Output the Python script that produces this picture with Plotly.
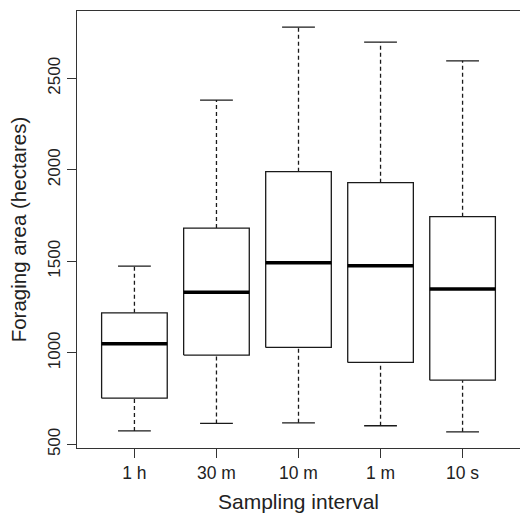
import plotly.graph_objects as go

categories = ["1 h", "30 m", "10 m", "1 m", "10 s"]
lower_whisker = [574, 615, 618, 602, 569]
q1 = [753, 988, 1030, 948, 851]
median = [1050, 1331, 1492, 1476, 1349]
q3 = [1219, 1682, 1990, 1930, 1744]
upper_whisker = [1474, 2381, 2779, 2697, 2595]
y_ticks = [500, 1000, 1500, 2000, 2500]

positions = list(range(1, len(categories) + 1))
HALF = 0.4
CAP = 0.2
INK = "#1a1a1a"

fig = go.Figure()
for p, lo, a, m, b, hi in zip(positions, lower_whisker, q1, median, q3, upper_whisker):
    # whiskers (dashed)
    fig.add_trace(go.Scatter(x=[p, p, None, p, p], y=[b, hi, None, lo, a], mode="lines",
                             line=dict(color=INK, width=1.3, dash="4px,3px"),
                             hoverinfo="skip", showlegend=False))
    # caps
    fig.add_trace(go.Scatter(x=[p - CAP, p + CAP, None, p - CAP, p + CAP],
                             y=[hi, hi, None, lo, lo], mode="lines",
                             line=dict(color=INK, width=1.3),
                             hoverinfo="skip", showlegend=False))
    # box
    fig.add_trace(go.Scatter(x=[p - HALF, p + HALF, p + HALF, p - HALF, p - HALF],
                             y=[a, a, b, b, a], mode="lines", fill="toself",
                             fillcolor="white", line=dict(color=INK, width=1.3),
                             hoverinfo="skip", showlegend=False))
    # median
    fig.add_trace(go.Scatter(x=[p - HALF, p + HALF], y=[m, m], mode="lines",
                             line=dict(color="black", width=3.4),
                             hoverinfo="skip", showlegend=False))

lo_all = min(lower_whisker)
hi_all = max(upper_whisker)
pad = 0.04 * (hi_all - lo_all)

font = "Liberation Sans, Arial, Helvetica, sans-serif"
fig.update_layout(
    width=520, height=513,
    margin=dict(l=77, r=0, t=11, b=65),
    paper_bgcolor="white", plot_bgcolor="white",
    font=dict(family=font, color="#222"),
    xaxis=dict(range=[0.3, len(categories) + 0.7], tickvals=positions, ticktext=categories,
               automargin=False,
               showgrid=False, zeroline=False, showline=True, linecolor="#333", linewidth=1.3,
               mirror=True, ticks="outside", ticklen=9, tickwidth=1.3, tickcolor="#333",
               tickfont=dict(size=17.5, color="#222"),
               title=dict(text="Sampling interval", font=dict(size=21, color="#222"), standoff=14)),
    yaxis=dict(range=[lo_all - pad, hi_all + pad], tickvals=y_ticks,
               ticktext=[str(v) for v in y_ticks], tickangle=-90,
               automargin=False,
               showgrid=False, zeroline=False, showline=True, linecolor="#333", linewidth=1.3,
               ticks="outside", ticklen=9, tickwidth=1.3, tickcolor="#333",
               tickfont=dict(size=17, color="#222"),
               title=dict(text="Foraging area (hectares)", font=dict(size=20.5, color="#222"), standoff=12)),
)

fig.write_html("out.html", config={"displayModeBar": False},
               post_script="document.body.style.margin='0';")
